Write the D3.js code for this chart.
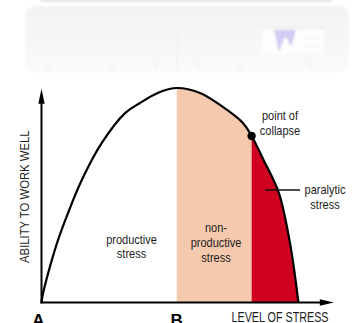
<!DOCTYPE html>
<html>
<head>
<meta charset="utf-8">
<script src="https://cdn.jsdelivr.net/npm/d3@7/dist/d3.min.js"></script>
<style>
  html, body { margin: 0; padding: 0; background: #fff; overflow: hidden; }
  svg { display: block; }
  text { font-family: "Liberation Sans", Arial, Helvetica, sans-serif; fill: #1e1e1e; }
</style>
</head>
<body>
<svg id="chart" width="354" height="323"></svg>
<script>
// Ability to work well as a function of the level of stress
const stressLevel = [0, 0.06, 0.31, 0.61, 0.98, 1.49, 2.23, 3.09, 3.64, 4.38, 5.0, 5.86, 6.6, 7.45, 7.77, 8.23, 8.78, 9.19, 9.38, 9.5];
const ability     = [0, 4.4, 16.6, 29.1, 41.7, 57.1, 74.4, 88.3, 93.0, 98.1, 100, 97.7, 92.1, 83.7, 77.6, 66, 51, 27.7, 11.9, 0];

// Stress zones (start / end on the stress axis)
const zoneNames = ["productive stress", "non-productive stress", "paralytic stress"];
const zoneStart = [0, 5.0, 7.77];
const zoneEnd   = [5.0, 7.77, 9.5];

// Point of collapse
const collapseStress = 7.77;
const collapseAbility = 77.6;

// Axis letters and titles
const axisLetters = ["A", "B"];
const axisLetterAt = [0, 5.0];
const xTitle = "LEVEL OF STRESS";
const yTitle = "ABILITY TO WORK WELL";

const points = stressLevel.map((s, i) => ({ s, a: ability[i] }));

const svg = d3.select("#chart");

const x = d3.scaleLinear().domain([0, 10]).range([41.5, 311.9]);
const y = d3.scaleLinear().domain([0, 100]).range([302.5, 88]);
const xAxisEnd = 10.81;   // arrow tip of the stress axis
const yAxisEnd = 99.6;    // arrow tip of the ability axis

// ---- faint banner at the top of the page ----
const defs = svg.append("defs");
defs.append("filter").attr("id", "soft").attr("x", "-10%").attr("y", "-20%").attr("width", "120%").attr("height", "140%")
  .append("feGaussianBlur").attr("stdDeviation", 1.3);
const bannerGrad = defs.append("linearGradient").attr("id", "bannerGrad").attr("x1", 0).attr("y1", 0).attr("x2", 0).attr("y2", 1);
bannerGrad.append("stop").attr("offset", "0%").attr("stop-color", "#f3f3f5");
bannerGrad.append("stop").attr("offset", "100%").attr("stop-color", "#fafafa");

const banner = svg.append("g").attr("filter", "url(#soft)");
banner.append("rect").attr("x", 40).attr("y", -3).attr("width", 292).attr("height", 5).attr("rx", 2).attr("fill", "#e5e5e5");
banner.append("rect").attr("x", 25).attr("y", 6).attr("width", 324).attr("height", 66).attr("rx", 10).attr("fill", "url(#bannerGrad)");
banner.append("line").attr("x1", 30).attr("x2", 345).attr("y1", 35).attr("y2", 35).attr("stroke", "#f1f1f1");
banner.append("line").attr("x1", 177).attr("x2", 177).attr("y1", 30).attr("y2", 72).attr("stroke", "#ebebeb");
banner.append("rect").attr("x", 262).attr("y", 27).attr("width", 62).attr("height", 27).attr("fill", "#fdfdfd");
banner.append("line").attr("x1", 262).attr("x2", 324).attr("y1", 28).attr("y2", 28).attr("stroke", "#dedede");
banner.append("path").attr("d", "M274,30 L279,52 L284,38 L287,38 L291,47 L296,30 Z").attr("fill", "#d2cbf2");
banner.append("line").attr("x1", 306).attr("x2", 320).attr("y1", 38).attr("y2", 38).attr("stroke", "#ececf2");
banner.append("line").attr("x1", 306).attr("x2", 320).attr("y1", 46).attr("y2", 46).attr("stroke", "#ececf2");
[48, 112, 155, 198, 240, 310].forEach(px => {
  banner.append("line").attr("x1", px).attr("x2", px).attr("y1", 60).attr("y2", 70).attr("stroke", "#eeeeee");
});

// ---- area under the curve used as clip for the coloured zones ----
const curveType = d3.curveCatmullRom.alpha(0.5);
const area = d3.area().x(d => x(d.s)).y0(y(0)).y1(d => y(d.a)).curve(curveType);
const line = d3.line().x(d => x(d.s)).y(d => y(d.a)).curve(curveType);

defs.append("clipPath").attr("id", "underCurve").append("path").attr("d", area(points));

const zoneFill = ["none", "#f4c9ad", "#cf0020"];
svg.append("g").attr("clip-path", "url(#underCurve)")
  .selectAll("rect").data(zoneNames).join("rect")
  .attr("x", (d, i) => x(zoneStart[i]))
  .attr("width", (d, i) => x(zoneEnd[i]) - x(zoneStart[i]) + (i === 2 ? 3 : 0))
  .attr("y", y(100) - 3)
  .attr("height", y(0) - y(100) + 3)
  .attr("fill", (d, i) => zoneFill[i]);

// ---- curve ----
svg.append("path").attr("d", line(points))
  .attr("fill", "none").attr("stroke", "#000").attr("stroke-width", 2.2);

// ---- axes with arrow heads ----
const axes = svg.append("g").attr("stroke", "#000").attr("stroke-width", 2);
axes.append("line").attr("x1", x(0)).attr("x2", x(0)).attr("y1", y(0) + 1).attr("y2", y(yAxisEnd) + 8);
axes.append("line").attr("x1", x(0) - 1).attr("x2", x(xAxisEnd) - 8).attr("y1", y(0)).attr("y2", y(0));
svg.append("path")
  .attr("d", `M${x(0)},${y(yAxisEnd)} L${x(0) + 3.2},${y(yAxisEnd) + 15} L${x(0) - 3.2},${y(yAxisEnd) + 15} Z`)
  .attr("fill", "#000");
svg.append("path")
  .attr("d", `M${x(xAxisEnd)},${y(0)} L${x(xAxisEnd) - 14},${y(0) - 3.2} L${x(xAxisEnd) - 14},${y(0) + 3.2} Z`)
  .attr("fill", "#000");

// ---- point of collapse ----
svg.append("circle").attr("cx", x(collapseStress)).attr("cy", y(collapseAbility)).attr("r", 4.2).attr("fill", "#000");

// leader line for paralytic stress
svg.append("line").attr("x1", 265).attr("x2", 300).attr("y1", 190).attr("y2", 190)
  .attr("stroke", "#111").attr("stroke-width", 1.4);

// ---- labels (condensed sans: horizontally squeezed text) ----
function multiline(lines, cx, baselines, size, squeeze) {
  const t = svg.append("text").attr("text-anchor", "middle").attr("font-size", size)
    .attr("transform", `translate(${cx},0) scale(${squeeze},1)`);
  lines.forEach((l, i) => t.append("tspan").attr("x", 0).attr("y", baselines[i]).text(l));
}
multiline(["productive", "stress"], 131.5, [244.5, 258.5], 12.5, 0.88);
multiline(["non-", "productive", "stress"], 216, [232.5, 247, 262], 12.5, 0.88);
multiline(["point of", "collapse"], 280, [120.5, 135], 12.5, 0.88);
multiline(["paralytic", "stress"], 325, [194, 209.5], 12.5, 0.88);

svg.append("text").attr("text-anchor", "middle").attr("font-size", 13.8)
  .attr("transform", `translate(280,321.7) scale(0.78,1)`).text(xTitle);
svg.append("text").attr("text-anchor", "middle").attr("font-size", 13)
  .attr("transform", `translate(29.3,196.7) rotate(-90) scale(0.87,1)`).text(yTitle);

svg.selectAll("text.letter").data(axisLetters).join("text").attr("class", "letter")
  .attr("text-anchor", "middle")
  .attr("font-weight", "bold").attr("font-size", 17)
  .attr("x", (d, i) => x(axisLetterAt[i]) + (i === 0 ? -3.2 : 0))
  .attr("y", 325.5)
  .style("fill", "#000")
  .text(d => d);
</script>
</body>
</html>
